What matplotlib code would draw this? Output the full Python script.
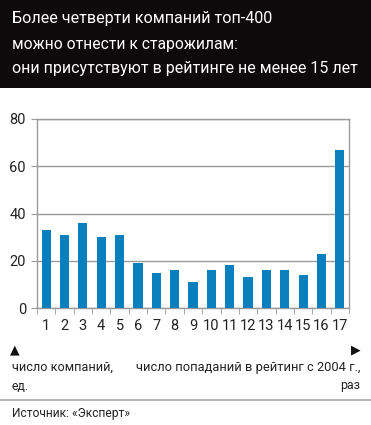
import matplotlib
matplotlib.use("Agg")
import matplotlib.pyplot as plt
from matplotlib.patches import Rectangle
from matplotlib.lines import Line2D

# data
times = list(range(1, 18))
companies = [33, 31, 36, 30, 31, 19, 15, 16, 11, 16, 18, 13, 16, 16, 14, 23, 67]
yticks = [0, 20, 40, 60, 80]

title_lines = ["Более четверти компаний топ-400",
               "можно отнести к старожилам:",
               "они присутствуют в рейтинге не менее 15 лет"]

plt.rcParams['font.family'] = ['Roboto', 'DejaVu Sans']

bar_color = '#0a7fbd'
grid_color = '#9a9a9a'

W, H = 371, 425
fig = plt.figure(figsize=(W/100, H/100), dpi=100)
renderer = fig.canvas.get_renderer()


def fit_text(x, y, s, width_px, **kw):
    # shrink the font so the text spans about width_px pixels (the original font is condensed)
    t = fig.text(x/W, 1 - y/H, s, va='center', **kw)
    w = t.get_window_extent(renderer).width
    t.set_fontsize(t.get_fontsize() * width_px / w)
    return t


# black title block
fig.patches.append(Rectangle((0, 1 - 88/H), 1, 88/H, transform=fig.transFigure,
                             facecolor='#0d0a0b', edgecolor='none', zorder=0))
fit_text(12, 18, title_lines[0], 260, color='white', ha='left')
fit_text(12, 44, title_lines[1], 224, color='white', ha='left')
fit_text(12, 69, title_lines[2], 345, color='white', ha='left')

ax = fig.add_axes([37/W, 1 - 308/H, 312/W, 189/H])
ax.bar(times, companies, width=0.5, color=bar_color, zorder=3)
ax.set_xlim(0.5, 17.5)
ax.set_ylim(0, 80)
ax.set_yticks(yticks)
ax.set_xticks(times)
ax.set_xticklabels([str(t) for t in times], fontsize=10.5)
ax.set_yticklabels([str(v) for v in yticks], fontsize=10.5)
ax.tick_params(axis='x', length=0, pad=8, colors='#222222')
ax.tick_params(axis='y', length=4, color=grid_color, labelcolor='#222222', pad=4, direction='out')
ax.set_xticks([t + 0.5 for t in [0] + times], minor=True)
ax.tick_params(axis='x', which='minor', length=4, color=grid_color, direction='out')
ax.grid(axis='y', color=grid_color, linewidth=1.0, zorder=0)
for s in ['top', 'right', 'left', 'bottom']:
    ax.spines[s].set_color(grid_color)
    ax.spines[s].set_linewidth(1.0)

# axis notes
fig.text(15/W, 1 - 350/H, '▲', fontsize=9, ha='center', va='center',
         family='DejaVu Sans', color='#111111')
fig.text(356/W, 1 - 350/H, '▶', fontsize=9, ha='center', va='center',
         family='DejaVu Sans', color='#111111')
fit_text(12, 367, 'число компаний,', 100, ha='left', color='#222222')
fit_text(12, 386, 'ед.', 17, ha='left', color='#222222')
fit_text(360, 367, 'число попаданий в рейтинг с 2004 г.,', 224, ha='right', color='#222222')
fit_text(360, 386, 'раз', 20, ha='right', color='#222222')

fig.lines.append(Line2D([0, 1], [1 - 400/H, 1 - 400/H], transform=fig.transFigure,
                        color='#b5b5b5', linewidth=1.5))
fit_text(12, 413, 'Источник: «Эксперт»', 118, ha='left', color='#222222')

fig.savefig('out.png', dpi=100, facecolor='white')
